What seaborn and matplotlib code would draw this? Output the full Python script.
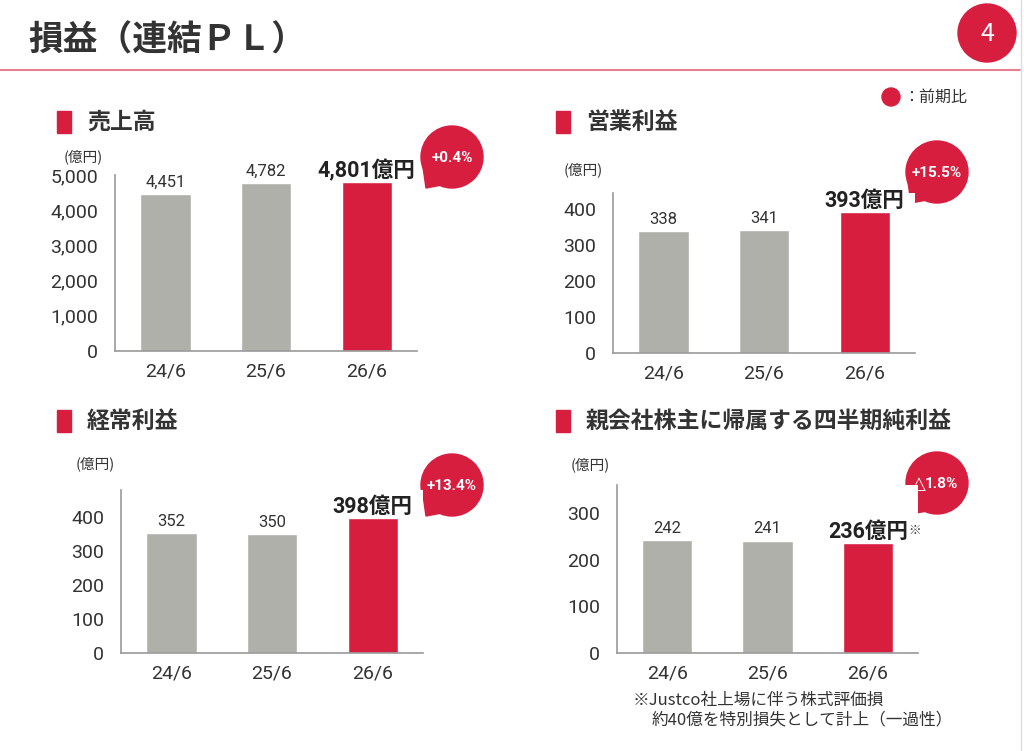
import matplotlib
matplotlib.use("Agg")
import matplotlib.pyplot as plt
import matplotlib.patches as mpatches
import seaborn as sns

# データ
periods = ["24/6", "25/6", "26/6"]
sales = [4451, 4782, 4801]
op_profit = [338, 341, 393]
ord_profit = [352, 350, 398]
net_profit = [242, 241, 236]

panel_titles = ["売上高", "営業利益", "経常利益", "親会社株主に帰属する四半期純利益"]
changes = ["+0.4%", "+15.5%", "+13.4%", "△1.8%"]
ylims = [5000, 445, 480, 360]
yticks = [[0, 1000, 2000, 3000, 4000, 5000], [0, 100, 200, 300, 400],
          [0, 100, 200, 300, 400], [0, 100, 200, 300]]
notes = ["", "", "", "※"]

RED = "#d81e3f"
GRAY = "#b0b0ab"
TXT = "#333333"
CJK = ["Noto Sans CJK JP", "DejaVu Sans"]
NUM = ["Roboto", "Noto Sans CJK JP", "DejaVu Sans"]

sns.set_style("white")
plt.rcParams["font.family"] = CJK

fig = plt.figure(figsize=(10.24, 7.51), dpi=100)

# 飾り用のオーバーレイ (ピクセル座標)
deco = fig.add_axes([0, 0, 1, 1], zorder=-1)
deco.set_xlim(0, 1024)
deco.set_ylim(751, 0)
deco.axis("off")

deco.text(28, 40, "損益（連結ＰＬ）", fontsize=25, fontweight="bold", color=TXT,
          va="center", ha="left")
deco.plot([0, 1020], [70, 70], color="#e8808f", lw=1.5)
deco.plot([1021, 1021], [0, 751], color="#dddddd", lw=1)
deco.add_patch(mpatches.Circle((987, 33), 29, color=RED))
deco.text(987, 34, "4", color="white", fontsize=18, ha="center", va="center")
deco.add_patch(mpatches.Circle((891, 97), 9, color=RED))
deco.text(903, 97, "：前期比", fontsize=11.5, color=TXT, va="center", ha="left")

# (left, top, right, bottom) in pixels
boxes = [(115, 175, 417, 351), (613, 193, 915, 353),
         (121, 490, 423, 653), (617, 485, 918, 653)]
title_pos = [(57, 122), (556, 122), (57, 421), (556, 421)]
unit_pos = [(83, 157), (583, 170), (95, 464), (590, 465)]
badge_pos = [(452, 157), (937, 172), (452, 485), (937, 483)]
datasets = [sales, op_profit, ord_profit, net_profit]

for k in range(4):
    l, t, r, b = boxes[k]
    ax = fig.add_axes([l / 1024, 1 - b / 751, (r - l) / 1024, (b - t) / 751])
    vals = datasets[k]
    sns.barplot(x=periods, y=vals, hue=periods, palette=[GRAY, GRAY, RED],
                legend=False, width=0.5, saturation=1, ax=ax)
    ax.set_xlim(-0.5, 2.5)
    ax.set_ylim(0, ylims[k])
    ax.set_yticks(yticks[k])
    ax.set_yticklabels([f"{v:,}" for v in yticks[k]], fontfamily=NUM, fontsize=14, color=TXT)
    ax.set_xticks(range(3))
    ax.set_xticklabels(periods, fontfamily=NUM, fontsize=14, color=TXT)
    ax.tick_params(length=0, axis="y", pad=12)
    ax.tick_params(length=0, axis="x", pad=8)
    ax.set_xlabel("")
    ax.set_ylabel("")
    for side in ["top", "right"]:
        ax.spines[side].set_visible(False)
    for side in ["left", "bottom"]:
        ax.spines[side].set_color("#999999")
        ax.spines[side].set_linewidth(1.2)

    for i, v in enumerate(vals):
        if i < 2:
            ax.annotate(f"{v:,}", (i, v), xytext=(0, 3), textcoords="offset points",
                        ha="center", va="bottom", fontsize=12, color=TXT, fontfamily=NUM)
        else:
            lab = ax.annotate(f"{v:,}億円", (i, v), xytext=(0, 0),
                              textcoords="offset points", ha="center", va="bottom",
                              fontsize=15.5, fontweight="bold", color="#222222",
                              fontfamily=NUM)
            if notes[k]:
                ax.annotate(notes[k], xy=(1, 0.85), xycoords=lab, ha="left", va="top",
                            fontsize=9, color=TXT)

    # 見出し
    tx, ty = title_pos[k]
    deco.add_patch(mpatches.Rectangle((tx, ty - 11), 14, 22, color=RED))
    deco.text(tx + 30, ty, panel_titles[k], fontsize=16.5, fontweight="bold", color=TXT,
              va="center", ha="left")
    ux, uy = unit_pos[k]
    deco.text(ux, uy, "(億円)", fontsize=10.5, color=TXT, va="center", ha="center")

    # 前期比バッジ
    bx, by = badge_pos[k]
    deco.add_patch(mpatches.Polygon([(bx - 29, by + 10), (bx - 26, by + 31), (bx - 10, by + 28)],
                                    closed=True, color=RED))
    deco.add_patch(mpatches.Circle((bx, by), 31, color=RED))
    label = changes[k]
    if label.startswith("△"):
        # 記号だけ大きめに描く
        deco.text(bx - 11, by + 1, "△", color="white", fontsize=13, fontweight="bold",
                  ha="right", va="center", fontfamily=["DejaVu Sans"])
        deco.text(bx - 12, by + 1, label[1:], color="white", fontsize=11, fontweight="bold",
                  ha="left", va="center", fontfamily=NUM)
    else:
        deco.text(bx, by + 1, label, color="white", fontsize=11, fontweight="bold",
                  ha="center", va="center", fontfamily=NUM)

# 注記
deco.text(633, 700, "※Justco社上場に伴う株式評価損", fontsize=12, color=TXT, va="center")
deco.text(652, 720, "約40億を特別損失として計上（一過性）", fontsize=12, color=TXT, va="center")

fig.savefig("out.png", dpi=100)
